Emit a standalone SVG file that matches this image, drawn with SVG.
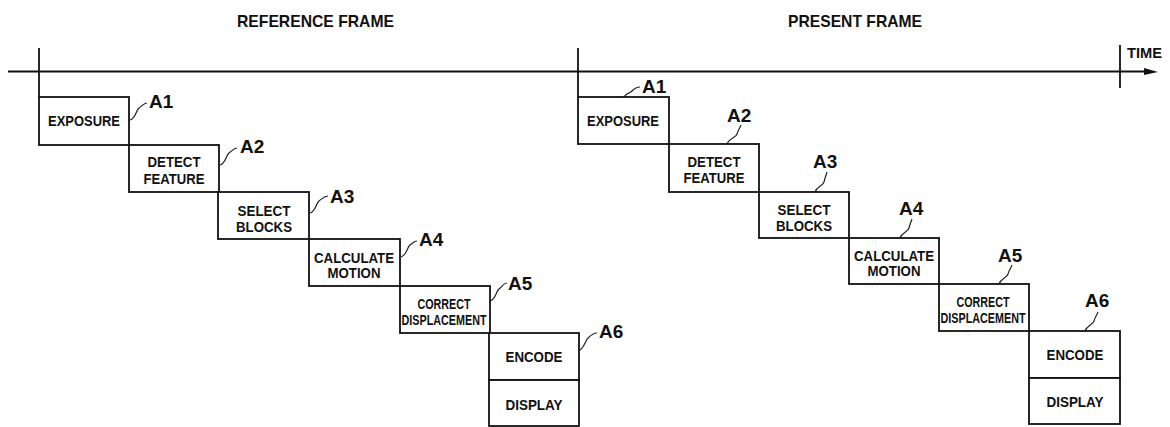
<svg xmlns="http://www.w3.org/2000/svg" width="1170" height="427" viewBox="0 0 1170 427">
<style>
.bx{fill:#fff;stroke:#111;stroke-width:1.8}
.ln{fill:none;stroke:#111;stroke-width:1.8}
.ld{fill:none;stroke:#222;stroke-width:1.2}
.t{font-family:"Liberation Sans",Arial,sans-serif;font-weight:bold;font-size:15px;fill:#111;text-anchor:middle}
.h{font-family:"Liberation Sans",Arial,sans-serif;font-weight:bold;font-size:17px;fill:#111}
.a{font-family:"Liberation Sans",Arial,sans-serif;font-weight:bold;font-size:19px;fill:#111}
</style>
<rect width="1170" height="427" fill="#fff"/>
<g id="headers">
<text class="h" x="237" y="27" textLength="157" lengthAdjust="spacingAndGlyphs">REFERENCE FRAME</text>
<text class="h" x="788" y="27" textLength="134" lengthAdjust="spacingAndGlyphs">PRESENT FRAME</text>
<text class="h" x="1127" y="58" textLength="35" lengthAdjust="spacingAndGlyphs" style="font-size:15px">TIME</text>
</g>
<g id="connectors">
<line class="ln" x1="8" y1="71.5" x2="1146" y2="71.5"/>
<polygon points="1144,68 1158,72 1144,75" fill="#111"/>
<line class="ln" x1="39" y1="48" x2="39" y2="97"/>
<line class="ln" x1="578" y1="48" x2="578" y2="97"/>
<line class="ln" x1="1120" y1="45" x2="1120" y2="88"/>
<path class="ld" d="M130,120 C136,118 136,110 139,108 S144,103 147,103"/>
<path class="ld" d="M220,165 C226,163 226,155 229,153 S234,148 237,148"/>
<path class="ld" d="M310,213 C316,211 316,203 319,201 S324,196 328,196"/>
<path class="ld" d="M401,257 C407,255 407,247 410,245 S414,241 417,241"/>
<path class="ld" d="M490,301 C496,299 496,291 499,289 S503,283 507,283"/>
<path class="ld" d="M578,351 C584,349 585,341 588,338 S593,333 597,333"/>
<path class="ld" d="M624,97 C626,93 629,94 632,91 S637,87 640,87"/>
<path class="ld" d="M727,144 C729,138 736,138 737,134 S740,128 741,125"/>
<path class="ld" d="M815,192 C817,186 823,186 824,182 S826,175 827,172"/>
<path class="ld" d="M900,238 C902,232 908,232 909,228 S911,222 912,219"/>
<path class="ld" d="M999,284 C1001,278 1007,278 1008,274 S1011,268 1012,265"/>
<path class="ld" d="M1085,331 C1087,325 1093,325 1094,321 S1097,315 1098,312"/>
</g>
<g id="labels">
<text class="a" x="149" y="108">A1</text>
<text class="a" x="240" y="153">A2</text>
<text class="a" x="330" y="203">A3</text>
<text class="a" x="419" y="246">A4</text>
<text class="a" x="508" y="290">A5</text>
<text class="a" x="599" y="338">A6</text>
<text class="a" x="642" y="93">A1</text>
<text class="a" x="727" y="122">A2</text>
<text class="a" x="813" y="168">A3</text>
<text class="a" x="899" y="215">A4</text>
<text class="a" x="998" y="262">A5</text>
<text class="a" x="1085" y="307">A6</text>
</g>
<g id="ref-exposure"><rect class="bx" x="39" y="97" width="90" height="48"/><text class="t" x="84" y="126" textLength="72" lengthAdjust="spacingAndGlyphs">EXPOSURE</text></g>
<g id="ref-detect"><rect class="bx" x="129" y="145" width="90" height="47"/><text class="t" x="174" y="167" textLength="53" lengthAdjust="spacingAndGlyphs">DETECT</text><text class="t" x="174" y="184" textLength="61" lengthAdjust="spacingAndGlyphs">FEATURE</text></g>
<g id="ref-select"><rect class="bx" x="218" y="192" width="91" height="47"/><text class="t" x="264" y="216" textLength="53" lengthAdjust="spacingAndGlyphs">SELECT</text><text class="t" x="264" y="232" textLength="56" lengthAdjust="spacingAndGlyphs">BLOCKS</text></g>
<g id="ref-calc"><rect class="bx" x="309" y="239" width="91" height="47"/><text class="t" x="354" y="263" textLength="80" lengthAdjust="spacingAndGlyphs">CALCULATE</text><text class="t" x="354" y="278" textLength="53" lengthAdjust="spacingAndGlyphs">MOTION</text></g>
<g id="ref-correct"><rect class="bx" x="400" y="286" width="90" height="47"/><text class="t" x="444" y="309" textLength="53" lengthAdjust="spacingAndGlyphs" style="font-size:14px">CORRECT</text><text class="t" x="444" y="325" textLength="85" lengthAdjust="spacingAndGlyphs">DISPLACEMENT</text></g>
<g id="ref-encode"><rect class="bx" x="489" y="333" width="90" height="47"/><text class="t" x="534" y="362" textLength="57" lengthAdjust="spacingAndGlyphs">ENCODE</text></g>
<g id="ref-display"><rect class="bx" x="489" y="380" width="90" height="46"/><text class="t" x="534" y="410" textLength="57" lengthAdjust="spacingAndGlyphs">DISPLAY</text></g>
<g id="pre-exposure"><rect class="bx" x="578" y="97" width="91" height="47"/><text class="t" x="623" y="126" textLength="72" lengthAdjust="spacingAndGlyphs">EXPOSURE</text></g>
<g id="pre-detect"><rect class="bx" x="669" y="144" width="90" height="48"/><text class="t" x="714" y="167" textLength="53" lengthAdjust="spacingAndGlyphs">DETECT</text><text class="t" x="714" y="183" textLength="61" lengthAdjust="spacingAndGlyphs">FEATURE</text></g>
<g id="pre-select"><rect class="bx" x="759" y="192" width="90" height="46"/><text class="t" x="804" y="215" textLength="53" lengthAdjust="spacingAndGlyphs">SELECT</text><text class="t" x="804" y="231" textLength="56" lengthAdjust="spacingAndGlyphs">BLOCKS</text></g>
<g id="pre-calc"><rect class="bx" x="849" y="238" width="90" height="46"/><text class="t" x="894" y="261" textLength="80" lengthAdjust="spacingAndGlyphs">CALCULATE</text><text class="t" x="894" y="276" textLength="53" lengthAdjust="spacingAndGlyphs">MOTION</text></g>
<g id="pre-correct"><rect class="bx" x="939" y="284" width="90" height="47"/><text class="t" x="983" y="307" textLength="53" lengthAdjust="spacingAndGlyphs" style="font-size:14px">CORRECT</text><text class="t" x="983" y="323" textLength="85" lengthAdjust="spacingAndGlyphs">DISPLACEMENT</text></g>
<g id="pre-encode"><rect class="bx" x="1029" y="331" width="91" height="47"/><text class="t" x="1075" y="360" textLength="57" lengthAdjust="spacingAndGlyphs">ENCODE</text></g>
<g id="pre-display"><rect class="bx" x="1029" y="378" width="91" height="46"/><text class="t" x="1075" y="407" textLength="57" lengthAdjust="spacingAndGlyphs">DISPLAY</text></g>
</svg>
